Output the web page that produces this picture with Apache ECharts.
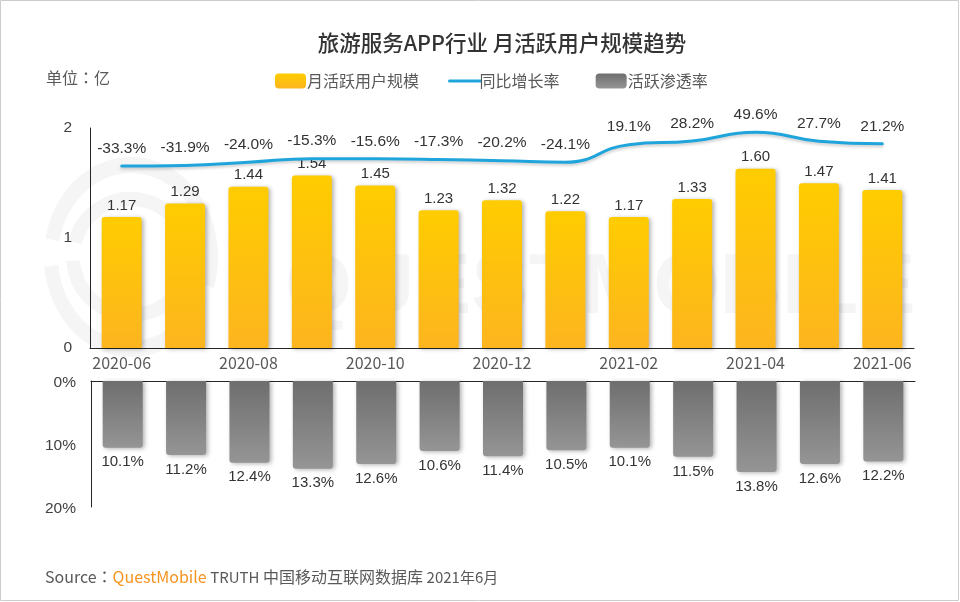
<!DOCTYPE html>
<html>
<head>
<meta charset="utf-8">
<script src="https://cdn.jsdelivr.net/npm/echarts@6/dist/echarts.min.js"></script>
<style>
  html, body { margin: 0; padding: 0; background: #fff; }
  #main { width: 960px; height: 602px; }
</style>
</head>
<body>
<div id="main"></div>
<script>
const months = ['2020-06', '2020-07', '2020-08', '2020-09', '2020-10', '2020-11', '2020-12', '2021-01', '2021-02', '2021-03', '2021-04', '2021-05', '2021-06'];
const mau = [1.17, 1.29, 1.44, 1.54, 1.45, 1.23, 1.32, 1.22, 1.17, 1.33, 1.60, 1.47, 1.41];
const growth = [-33.3, -31.9, -24.0, -15.3, -15.6, -17.3, -20.2, -24.1, 19.1, 28.2, 49.6, 27.7, 21.2];
const penetration = [10.1, 11.2, 12.4, 13.3, 12.6, 10.6, 11.4, 10.5, 10.1, 11.5, 13.8, 12.6, 12.2];

const CJK = '"Noto Sans CJK SC", sans-serif';
const NUM = '"Liberation Sans", Arial, sans-serif';
const WATERMARK = '#F5F5F5';

const chart = echarts.init(document.getElementById('main'));

function vGrad(a, b) {
  return new echarts.graphic.LinearGradient(0, 0, 0, 1, [
    { offset: 0, color: a },
    { offset: 1, color: b }
  ]);
}

// faint logo ring behind the bars
function ring(r, from, to, stretch) {
  return {
    type: 'arc', silent: true, z: 0,
    originX: 131, originY: 257, scaleY: stretch,
    shape: { cx: 131, cy: 257, r: r, startAngle: from * Math.PI, endAngle: to * Math.PI },
    style: { fill: 'none', stroke: WATERMARK, lineWidth: 14 }
  };
}

const barShadow = { shadowColor: 'rgba(0,0,0,0.3)', shadowBlur: 4, shadowOffsetX: 2, shadowOffsetY: 1 };
const colon = { fontFamily: '"Noto Sans CJK TC", sans-serif', fontSize: 16, color: '#595959' };
const small = { fontFamily: CJK, fontSize: 15, color: '#595959' };

chart.setOption({
  backgroundColor: '#fff',
  animation: false,
  title: [
    {
      text: '旅游服务APP行业 月活跃用户规模趋势',
      left: 497, top: 27, textAlign: 'center',
      textStyle: { fontFamily: CJK, fontSize: 21.5, fontWeight: 500, color: '#333' }
    },
    {
      text: '单位{c|：}亿',
      left: 41, top: 65,
      textStyle: { fontFamily: CJK, fontSize: 16, fontWeight: 400, color: '#595959', rich: { c: colon } }
    },
    {
      text: 'Source{c|：}{q|QuestMobile} {t|TRUTH} 中国移动互联网数据库 {t|2021年6月}',
      left: 40, top: 564,
      textStyle: {
        fontFamily: CJK, fontSize: 16, fontWeight: 400, color: '#595959',
        rich: { c: colon, t: small, q: { fontFamily: CJK, fontSize: 16, color: '#F7931E' } }
      }
    }
  ],
  legend: {
    left: 270, top: 68, itemWidth: 31, itemHeight: 15, itemGap: 29,
    data: [
      { name: '月活跃用户规模' },
      {
        name: '同比增长率',
        itemStyle: { opacity: 0 },
        lineStyle: { width: 3, cap: 'round' },
        textStyle: { padding: [0, 0, 0, -6] }
      },
      { name: '活跃渗透率' }
    ],
    formatter: name => name === '同比增长率' ? name + '  ' : name,
    textStyle: { fontFamily: CJK, fontSize: 16, color: '#595959', padding: [0, 0, 0, -4] }
  },
  graphic: [
    {
      type: 'rect', silent: true, z: 0,
      shape: { x: 0.5, y: 0.5, width: 958, height: 600 },
      style: { fill: 'none', stroke: '#ccc', lineWidth: 1 }
    },
    ring(80, 1.06, 2.1, 1.15),
    ring(80, 0.22, 0.97, 1.15),
    ring(58, 1.08, 1.95, 1),
    ring(58, 0.2, 0.98, 1),
    {
      type: 'text', silent: true, z: 0,
      style: {
        x: 285, y: 289, text: 'QUESTMOBILE', textVerticalAlign: 'middle',
        font: 'bold 86px "Liberation Sans", Arial, sans-serif', fill: WATERMARK
      }
    }
  ],
  grid: [
    { left: 90, width: 824, top: 128, height: 220 },
    { left: 91, width: 824, top: 381, height: 126 }
  ],
  xAxis: [
    {
      type: 'category', gridIndex: 0, data: months,
      axisLine: { lineStyle: { color: '#262626', width: 1 } },
      axisTick: { show: false },
      axisLabel: { interval: 1, fontFamily: CJK, fontSize: 16, color: '#595959', margin: 7 }
    },
    {
      type: 'category', gridIndex: 1, data: months, position: 'top',
      axisLine: { lineStyle: { color: '#262626', width: 1 } },
      axisTick: { show: false },
      axisLabel: { show: false }
    }
  ],
  yAxis: [
    {
      // visible axis, upper panel
      type: 'value', gridIndex: 0, min: 0, max: 2, interval: 1,
      axisLine: { show: true, lineStyle: { color: '#262626', width: 1 } },
      axisTick: { show: false }, splitLine: { show: false },
      axisLabel: { fontFamily: NUM, fontSize: 15.5, color: '#404040', margin: 18 }
    },
    {
      // bars run a little larger than the printed ticks in the original
      type: 'value', gridIndex: 0, min: 0, max: 1.964, show: false, splitLine: { show: false }
    },
    {
      type: 'value', gridIndex: 0, min: -480, max: 60, show: false, splitLine: { show: false }
    },
    {
      // visible axis, lower panel
      type: 'value', gridIndex: 1, min: 0, max: 20, interval: 10, inverse: true,
      axisLine: { show: true, lineStyle: { color: '#262626', width: 1 } },
      axisTick: { show: false }, splitLine: { show: false },
      axisLabel: {
        formatter: '{a|{value}%}', margin: 15,
        rich: { a: { fontFamily: NUM, fontSize: 15.5, color: '#404040', padding: [4, 0, 0, 0] } }
      }
    },
    {
      type: 'value', gridIndex: 1, min: 0, max: 19.1, inverse: true, show: false, splitLine: { show: false }
    }
  ],
  series: [
    {
      name: '月活跃用户规模', type: 'bar', xAxisIndex: 0, yAxisIndex: 1, data: mau, barWidth: 40,
      itemStyle: Object.assign({ color: vGrad('#FFCC00', '#FDB51F'), borderRadius: [3, 3, 0, 0] }, barShadow),
      label: {
        show: true, position: 'top', distance: 4, fontFamily: NUM, fontSize: 15, color: '#333',
        formatter: p => p.value.toFixed(2)
      }
    },
    {
      name: '同比增长率', type: 'line', xAxisIndex: 0, yAxisIndex: 2, data: growth, smooth: true, z: 3,
      symbol: 'circle', symbolSize: 1, showSymbol: true,
      lineStyle: { color: '#1FA5DB', width: 3, cap: 'round', shadowColor: 'rgba(0,0,0,0.2)', shadowBlur: 3, shadowOffsetY: 2 },
      itemStyle: { color: '#1FA5DB' },
      label: {
        show: true, position: 'top', distance: 9, fontFamily: NUM, fontSize: 15.5, color: '#333',
        formatter: p => p.value.toFixed(1) + '%'
      }
    },
    {
      name: '活跃渗透率', type: 'bar', xAxisIndex: 1, yAxisIndex: 4, data: penetration, barWidth: 40,
      itemStyle: Object.assign({ color: vGrad('#6E6E6E', '#959595'), borderRadius: [0, 0, 3, 3] }, barShadow),
      label: {
        show: true, position: 'bottom', distance: 7, fontFamily: NUM, fontSize: 15, color: '#333',
        formatter: p => p.value.toFixed(1) + '%'
      }
    }
  ]
});
</script>
</body>
</html>
